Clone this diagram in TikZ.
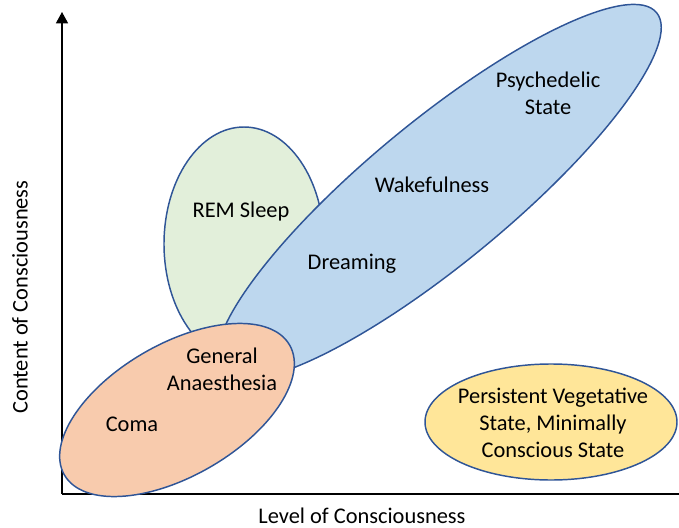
\documentclass[tikz,border=0pt]{standalone}
\usepackage{fontspec}
\setmainfont{Carlito}
\usetikzlibrary{arrows.meta}
\definecolor{rimblue}{HTML}{2F5597}
\definecolor{remgreen}{HTML}{E2EFDA}
\definecolor{wakeblue}{HTML}{BDD7EE}
\definecolor{comaorange}{HTML}{F8CBAD}
\definecolor{pvsyellow}{HTML}{FFE699}

\begin{document}
\begin{tikzpicture}[x=0.75pt,y=-0.75pt,
  every node/.style={font=\fontsize{16.8}{20}\selectfont,align=center,inner sep=0pt},
  blob/.style={draw=rimblue,line width=1.1pt}]
  \useasboundingbox (0,0) rectangle (679,528);

  % Axes
  \coordinate (o) at (62,494);
  \coordinate (ytip) at (62,12);
  \coordinate (xend) at (679,494);
  \draw[line width=1.1pt,-{Triangle[width=9pt,length=8.5pt]}] (o) -- (ytip);
  \draw[line width=1.1pt] (o) -- (xend);

  % States of consciousness
  \draw[blob,fill=remgreen] (244,244) ellipse [x radius=80,y radius=117];
  \draw[blob,fill=wakeblue,rotate around={39.5:(439,192)}] (439,192) ellipse [x radius=282,y radius=71];
  \draw[blob,fill=comaorange,rotate around={30:(177,410)}] (177,410) ellipse [x radius=130,y radius=66];
  \draw[blob,fill=pvsyellow] (551,422) ellipse [x radius=126,y radius=58];

  % Labels
  \node (rem) at (241,212) {REM Sleep};
  \node (wake) at (432,185) {Wakefulness};
  \node (dream) at (352,264) {Dreaming};
  \node (psy) at (548,93) {Psychedelic\\State};
  \node (ga) at (222,369) {General\\Anaesthesia};
  \node (coma) at (132,424) {Coma};
  \node (pvs) at (553,423) {Persistent Vegetative\\State, Minimally\\Conscious State};

  % Axis titles
  \node (xlab) at (362,516) {Level of Consciousness};
  \node[rotate=90] (ylab) at (20,297) {Content of Consciousness};
\end{tikzpicture}
\end{document}
